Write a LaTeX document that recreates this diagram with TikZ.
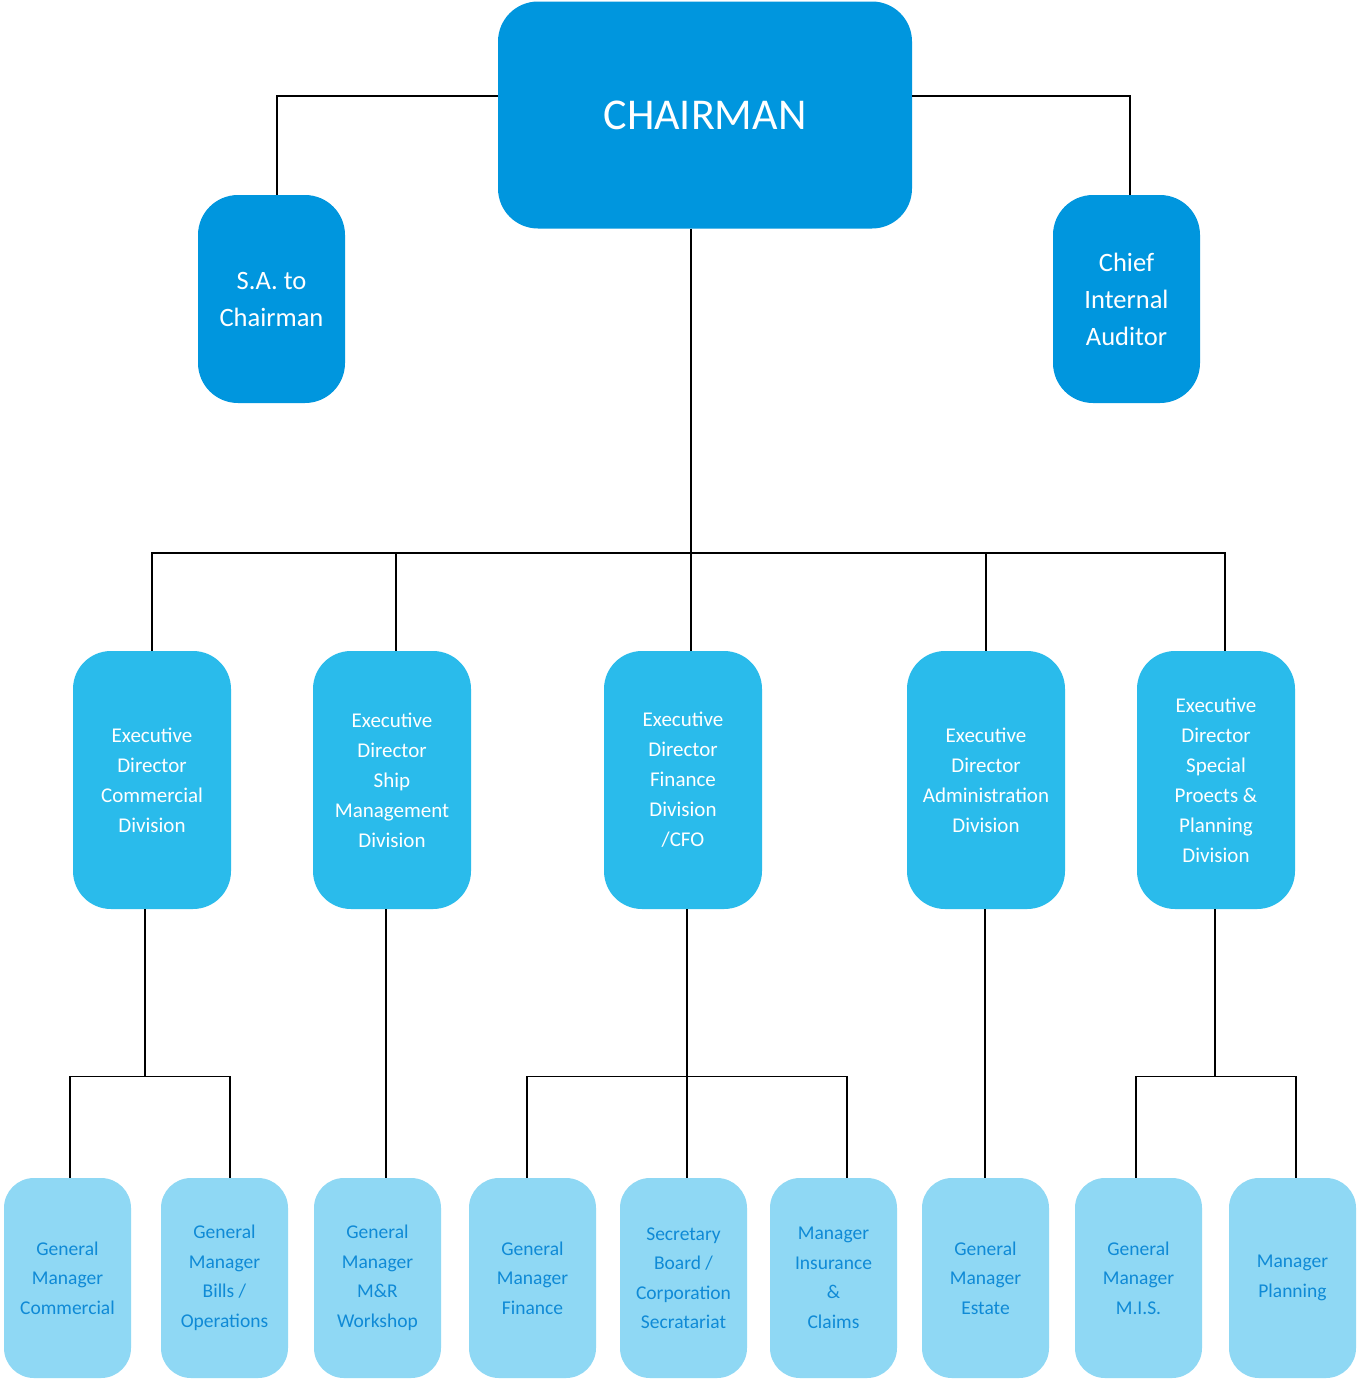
\documentclass[tikz,border=0pt]{standalone}
\usepackage{fontspec}
\setmainfont{Carlito}
\definecolor{topblue}{RGB}{0,150,222}
\definecolor{midblue}{RGB}{42,187,235}
\definecolor{lowblue}{RGB}{143,216,244}
\definecolor{lowtext}{RGB}{15,138,214}
\begin{document}
\begin{tikzpicture}[x=1pt,y=-1pt,
  topbox/.style={rectangle,rounded corners=40pt,fill=topblue,text=white,align=center,inner sep=0pt},
  midbox/.style={rectangle,rounded corners=38pt,fill=midblue,text=white,align=center,inner sep=0pt,
    minimum width=158pt,minimum height=258pt,font=\fontsize{21}{30}\selectfont},
  lowbox/.style={rectangle,rounded corners=30pt,fill=lowblue,text=lowtext,align=center,inner sep=0pt,
    minimum width=127pt,minimum height=200pt,font=\fontsize{19.5}{29.5}\selectfont},
  conn/.style={draw=black,line width=1.2pt}]
\useasboundingbox (0,0) rectangle (1358,1379);
\fill[white] (0,0) rectangle (1358,1379);
% top level
\node[topbox,minimum width=414pt,minimum height=227pt,font=\fontsize{44}{52}\selectfont] (chair) at (705,115) {CHAIRMAN};
\node[topbox,minimum width=147pt,minimum height=208pt,font=\fontsize{26.5}{37}\selectfont] (sa) at (271.5,299) {S.A. to\\Chairman};
\node[topbox,minimum width=147pt,minimum height=208pt,font=\fontsize{26.5}{37}\selectfont] (cia) at (1126.5,299) {Chief\\Internal\\Auditor};
% executive directors
\node[midbox] (ed1) at (152,780) {Executive\\Director\\Commercial\\Division};
\node[midbox] (ed2) at (392,780) {Executive\\Director\\Ship\\Management\\Division};
\node[midbox] (ed3) at (683,780) {Executive\\Director\\Finance\\Division\\/CFO};
\node[midbox] (ed4) at (986,780) {Executive\\Director\\Administration\\Division};
\node[midbox] (ed5) at (1216,780) {Executive\\Director\\Special\\Proects \&\\Planning\\Division};
% lower level
\node[lowbox] (b1) at (67.5,1278) {General\\Manager\\Commercial};
\node[lowbox] (b2) at (224.5,1278) {General\\Manager\\Bills /\\Operations};
\node[lowbox] (b3) at (377.5,1278) {General\\Manager\\M\&R\\Workshop};
\node[lowbox] (b4) at (532.5,1278) {General\\Manager\\Finance};
\node[lowbox] (b5) at (683.5,1278) {Secretary\\Board /\\Corporation\\Secratariat};
\node[lowbox] (b6) at (833.5,1278) {Manager\\Insurance\\\&\\Claims};
\node[lowbox] (b7) at (985.5,1278) {General\\Manager\\Estate};
\node[lowbox] (b8) at (1138.5,1278) {General\\Manager\\M.I.S.};
\node[lowbox] (b9) at (1292.5,1278) {Manager\\Planning};
% connectors top
\draw[conn] ([yshift=19pt]chair.west) -| ([xshift=5.5pt]sa.north);
\draw[conn] ([yshift=19pt]chair.east) -| ([xshift=3.5pt]cia.north);
\draw[conn] ([xshift=-14pt]chair.south) -- ([xshift=8pt]ed3.north);
\coordinate (j) at (691,553);
\draw[conn] (ed1.north) |- (j) -| ([xshift=9pt]ed5.north);
\draw[conn] ([xshift=4pt]ed2.north) -- ++(0,-98);
\draw[conn] (ed4.north) -- ++(0,-98);
% connectors lower
\draw[conn] ([xshift=-7pt]ed1.south) -- ++(0,168);
\draw[conn] ([xshift=2.5pt]b1.north) -- ++(0,-101) -| ([xshift=5.5pt]b2.north);
\draw[conn] ([xshift=-6pt]ed2.south) -- ([xshift=8.5pt]b3.north);
\draw[conn] ([xshift=4pt]ed3.south) -- ([xshift=3.5pt]b5.north);
\draw[conn] ([xshift=-5.5pt]b4.north) -- ++(0,-101) -| ([xshift=13.5pt]b6.north);
\draw[conn] ([xshift=-1pt]ed4.south) -- ([xshift=-0.5pt]b7.north);
\draw[conn] ([xshift=-1pt]ed5.south) -- ++(0,168);
\draw[conn] ([xshift=-2.5pt]b8.north) -- ++(0,-101) -| ([xshift=3.5pt]b9.north);
\end{tikzpicture}
\end{document}
